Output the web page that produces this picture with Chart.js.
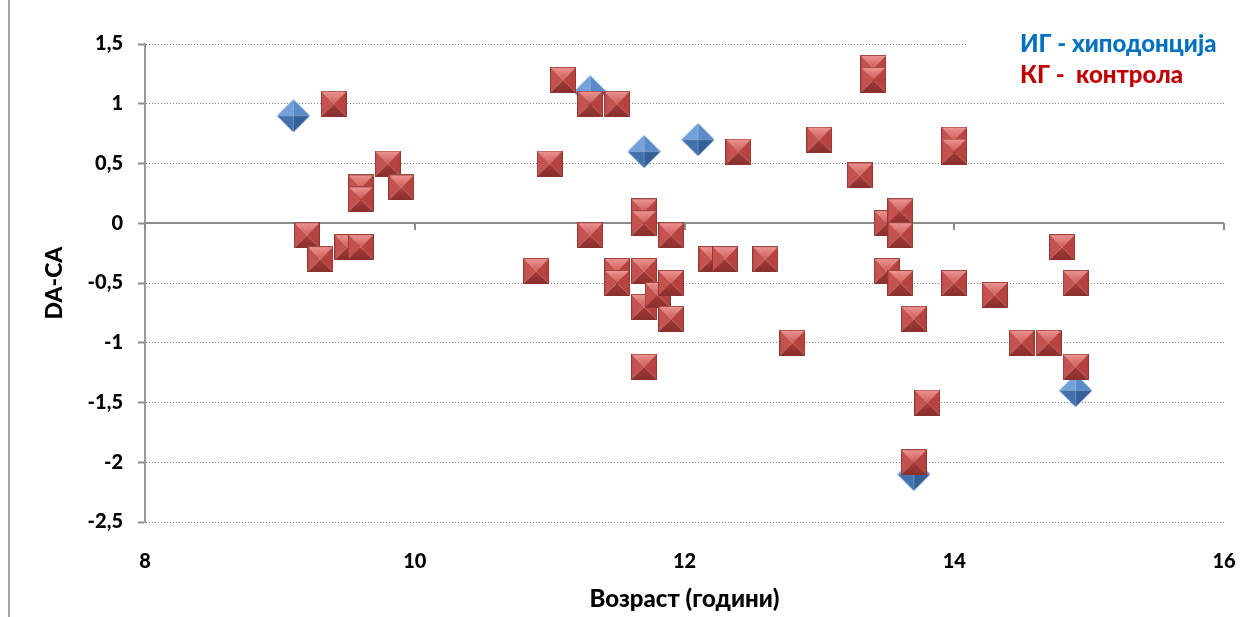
<!DOCTYPE html>
<html>
<head>
<meta charset="utf-8">
<script src="https://cdn.jsdelivr.net/npm/chart.js@4.4.1/dist/chart.umd.min.js"></script>
<style>
  html, body { margin: 0; padding: 0; background: #fff; }
  #wrap { position: relative; width: 1241px; height: 617px; }
</style>
</head>
<body>
<div id="wrap"><canvas id="scatter" width="1241" height="617"></canvas></div>
<script>
// ИГ - хиподонција (blue diamonds)
const igAge  = [9.1, 11.3, 11.7, 12.1, 13.7, 14.9];
const igDiff = [0.9, 1.1, 0.6, 0.7, -2.1, -1.4];

// КГ - контрола (red squares)
const kgAge = [
    9.4, 9.2, 9.3, 9.5, 9.6, 9.6, 9.6, 9.8, 9.9,
    10.9, 11.0, 11.1, 11.3, 11.3, 11.5, 11.5, 11.5,
    11.7, 11.7, 11.7, 11.7, 11.7, 11.8, 11.9, 11.9, 11.9,
    12.2, 12.3, 12.4, 12.6, 12.8, 13.0, 13.3, 13.4, 13.4,
    13.5, 13.5, 13.6, 13.6, 13.6, 13.7, 13.7, 13.8,
    14.0, 14.0, 14.0, 14.3, 14.5, 14.7, 14.8, 14.9, 14.9
];
const kgDiff = [
    1.0, -0.1, -0.3, -0.2, -0.2, 0.3, 0.2, 0.5, 0.3,
    -0.4, 0.5, 1.2, 1.0, -0.1, 1.0, -0.4, -0.5,
    0.1, 0.0, -0.4, -0.7, -1.2, -0.6, -0.1, -0.5, -0.8,
    -0.3, -0.3, 0.6, -0.3, -1.0, 0.7, 0.4, 1.3, 1.2,
    0.0, -0.4, 0.1, -0.1, -0.5, -0.8, -2.0, -1.5,
    0.7, 0.6, -0.5, -0.6, -1.0, -1.0, -0.2, -0.5, -1.2
];

const yTicks = [1.5, 1, 0.5, 0, -0.5, -1, -1.5, -2, -2.5];
const xTicks = [8, 10, 12, 14, 16];

const legendLines = [
    { text: 'ИГ - хиподонција', color: '#0070c0' },
    { text: 'КГ -  контрола', color: '#c00000' }
];

function toPoints(xs, ys) {
    return xs.map((x, i) => ({ x: x, y: ys[i] }));
}

function tri(g, pts, col) {
    g.beginPath();
    g.moveTo(pts[0], pts[1]);
    g.lineTo(pts[2], pts[3]);
    g.lineTo(pts[4], pts[5]);
    g.closePath();
    g.fillStyle = col;
    g.fill();
}

// bevelled square marker (pyramid look)
function makeSquare(s) {
    const c = document.createElement('canvas');
    c.width = s; c.height = s;
    const g = c.getContext('2d');
    const m = s / 2;
    const top = g.createLinearGradient(0, 0, 0, m);
    top.addColorStop(0, '#ee9794');
    top.addColorStop(1, '#cf5f5c');
    tri(g, [0, 0, s, 0, m, m], top);
    tri(g, [0, 0, 0, s, m, m], '#c4524f');
    tri(g, [s, 0, s, s, m, m], '#b7433f');
    const bot = g.createLinearGradient(0, m, 0, s);
    bot.addColorStop(0, '#a33b38');
    bot.addColorStop(1, '#8a2f2d');
    tri(g, [0, s, s, s, m, m], bot);
    g.strokeStyle = 'rgba(140,50,48,0.8)';
    g.lineWidth = 1;
    g.strokeRect(0.5, 0.5, s - 1, s - 1);
    return c;
}

// bevelled diamond marker
function makeDiamond(s) {
    const c = document.createElement('canvas');
    c.width = s; c.height = s;
    const g = c.getContext('2d');
    const m = s / 2;
    tri(g, [m, 0, 0, m, m, m], '#74a1da');
    tri(g, [m, 0, s, m, m, m], '#5a8bca');
    tri(g, [0, m, m, s, m, m], '#4272ae');
    tri(g, [s, m, m, s, m, m], '#345f98');
    return c;
}

const squareImg = makeSquare(26);
const diamondImg = makeDiamond(33);

// frame line, zero axis, legend box
const extras = {
    id: 'extras',
    beforeDraw(chart) {
        const ctx = chart.ctx;
        ctx.save();
        ctx.strokeStyle = '#a6a6a6';
        ctx.lineWidth = 2;
        ctx.beginPath();
        ctx.moveTo(9, 0);
        ctx.lineTo(9, 617);
        ctx.stroke();
        ctx.restore();
    },
    beforeDatasetsDraw(chart) {
        const ctx = chart.ctx;
        const xs = chart.scales.x;
        const ys = chart.scales.y;
        const y0 = Math.round(ys.getPixelForValue(0));
        ctx.save();
        // white legend box hides the grid behind the legend
        ctx.fillStyle = '#fff';
        ctx.fillRect(967, 30, 274, 62);
        // zero line with ticks
        ctx.strokeStyle = '#8c8c8c';
        ctx.lineWidth = 2;
        ctx.beginPath();
        ctx.moveTo(xs.left, y0);
        ctx.lineTo(xs.right, y0);
        xTicks.forEach(v => {
            const px = Math.round(xs.getPixelForValue(v));
            ctx.moveTo(px, y0);
            ctx.lineTo(px, y0 + 7);
        });
        ctx.stroke();
        // legend text
        ctx.font = '900 24px Lato';
        ctx.textBaseline = 'middle';
        ctx.textAlign = 'left';
        legendLines.forEach((l, i) => {
            ctx.fillStyle = l.color;
            ctx.fillText(l.text, 1020, 44 + i * 31);
        });
        ctx.restore();
    }
};

const ctx = document.getElementById('scatter').getContext('2d');
const chart = new Chart(ctx, {
    type: 'scatter',
    data: {
        datasets: [
            {
                label: 'КГ - контрола',
                data: toPoints(kgAge, kgDiff),
                pointStyle: squareImg,
                pointRadius: 13
            },
            {
                label: 'ИГ - хиподонција',
                data: toPoints(igAge, igDiff),
                pointStyle: diamondImg,
                pointRadius: 16
            }
        ]
    },
    options: {
        responsive: false,
        animation: false,
        events: [],
        layout: { padding: { top: 44, right: 16, left: 0, bottom: 0 } },
        plugins: {
            legend: { display: false },
            tooltip: { enabled: false }
        },
        scales: {
            x: {
                type: 'linear',
                min: 8,
                max: 16,
                afterBuildTicks: (s) => { s.ticks = xTicks.map(v => ({ value: v })); },
                afterFit: (s) => {
                    s.height = 95;
                    s.paddingLeft = 0;
                    s.paddingRight = 0;
                },
                grid: { display: false },
                border: { display: false },
                ticks: {
                    padding: 20,
                    color: '#000',
                    font: { family: 'Lato', size: 20, weight: 900 }
                },
                title: {
                    display: true,
                    text: 'Возраст (години)',
                    color: '#000',
                    font: { family: 'Lato', size: 24, weight: 900 },
                    padding: { top: 0, bottom: 3 }
                }
            },
            y: {
                type: 'linear',
                min: -2.5,
                max: 1.5,
                afterBuildTicks: (s) => { s.ticks = yTicks.map(v => ({ value: v })); },
                afterFit: (s) => {
                    s.width = 145;
                    s.paddingTop = 0;
                    s.paddingBottom = 0;
                },
                grid: {
                    color: '#7f7f7f',
                    lineWidth: 1,
                    drawTicks: true,
                    tickLength: 7,
                    tickColor: '#8c8c8c',
                    tickWidth: 2
                },
                border: { display: true, color: '#9a9a9a', width: 2, dash: [1, 2] },
                ticks: {
                    padding: 15,
                    color: '#000',
                    font: { family: 'Lato', size: 20, weight: 900 },
                    callback: (v) => String(v).replace('.', ',')
                },
                title: {
                    display: true,
                    text: 'DA-CA',
                    color: '#000',
                    font: { family: 'Lato', size: 23, weight: 900 },
                    padding: { top: 41, bottom: 0 }
                }
            }
        }
    },
    plugins: [extras]
});
</script>
</body>
</html>
